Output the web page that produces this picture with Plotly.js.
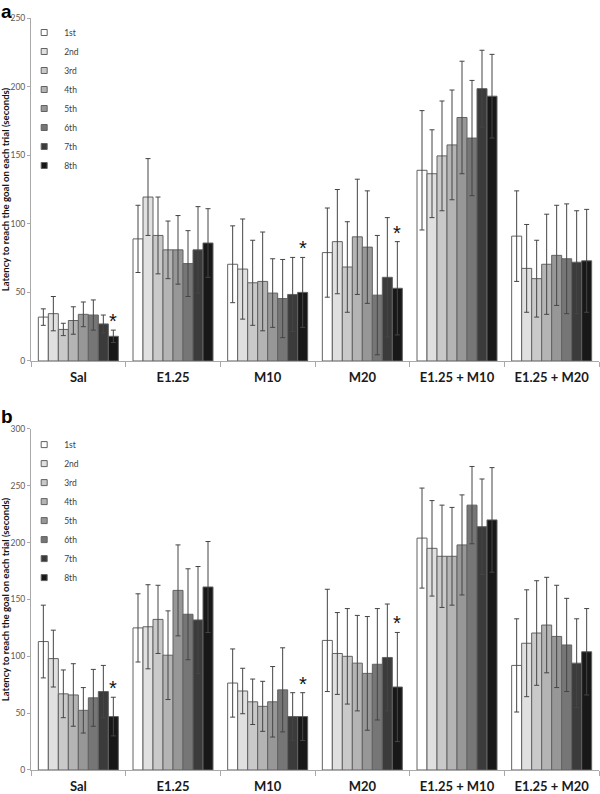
<!DOCTYPE html>
<html>
<head>
<meta charset="utf-8">
<script src="https://cdn.plot.ly/plotly-3.0.1.min.js"></script>
<style>html,body{margin:0;padding:0;background:#fff;}#chart{width:600px;height:794px;}</style>
</head>
<body>
<div id="chart"></div>
<script>
// ---- categories & series ----
const groups = ['Sal', 'E1.25', 'M10', 'M20', 'E1.25 + M10', 'E1.25 + M20'];
const trials = ['1st', '2nd', '3rd', '4th', '5th', '6th', '7th', '8th'];
const trialColors = ['#ffffff', '#e0e0e0', '#c9c9c9', '#b4b4b4', '#979797', '#767676', '#3b3b3b', '#181818'];

// Panel a: mean latency (s) per trial, one array per group
const aSal      = [32, 34.5, 23, 29.5, 34, 33.5, 27, 18];
const aE125     = [89, 119.5, 91.5, 81, 81, 71, 81, 86];
const aM10      = [70.5, 67, 57, 58, 49.5, 45.5, 48.5, 50];
const aM20      = [79, 87, 68.5, 90.5, 83, 48, 61, 53];
const aE125M10  = [139, 136.5, 149.5, 157.5, 177.5, 162.5, 198.5, 193];
const aE125M20  = [91, 67.5, 60, 70.5, 77, 74.5, 72, 73];
// Panel a: error bars
const aSalErr     = [6, 12.5, 4.5, 10, 9, 11, 6.5, 4.5];
const aE125Err    = [24.5, 28, 28, 21, 25, 24, 31.5, 25];
const aM10Err     = [28, 36.5, 31, 36, 25, 28.5, 27, 25.5];
const aM20Err     = [32.5, 38, 33, 42, 41, 43.5, 43.5, 34];
const aE125M10Err = [43.5, 32, 40, 40, 41, 42, 28, 30.5];
const aE125M20Err = [33, 32, 28, 36.5, 36.5, 40, 37.5, 37.5];

// Panel b: mean latency (s) per trial
const bSal      = [113, 98, 67, 66, 52.5, 63.5, 69, 47];
const bE125     = [125, 126, 132.5, 101, 158, 137, 132, 161];
const bM10      = [76.5, 69.5, 60, 56, 60, 70.5, 47, 47];
const bM20      = [114, 102.5, 100, 94, 85, 93, 99, 73];
const bE125M10  = [204, 195, 188, 188, 198, 233, 214, 220];
const bE125M20  = [92, 111.5, 120.5, 127.5, 117.5, 110, 94, 104];
// Panel b: error bars
const bSalErr     = [32, 25, 21, 27.5, 20, 25, 23, 17];
const bE125Err    = [30, 37, 30, 39, 40, 40, 47, 40];
const bM10Err     = [30, 20, 20, 22, 31, 37, 21, 21];
const bM20Err     = [45, 36, 42, 42, 50, 49, 47, 48];
const bE125M10Err = [44, 42, 45, 43, 44, 34, 42, 46];
const bE125M20Err = [41, 47, 46, 42, 45, 41, 39, 38];

// groups marked with * on the 8th trial
const starGroups = ['Sal', 'M10', 'M20'];
const yTitle = 'Latency to reach the goal on each trial (seconds)';

// ---- build ----
const meansA = [aSal, aE125, aM10, aM20, aE125M10, aE125M20];
const errsA  = [aSalErr, aE125Err, aM10Err, aM20Err, aE125M10Err, aE125M20Err];
const meansB = [bSal, bE125, bM10, bM20, bE125M10, bE125M20];
const errsB  = [bSalErr, bE125Err, bM10Err, bM20Err, bE125M10Err, bE125M20Err];

const BARGAP = 0.155;
const FONT = 'Lato, "Open Sans", sans-serif';
const traces = [];
const annotations = [];

function addPanel(means, errs, xa, ya, legendId) {
  trials.forEach((t, i) => {
    traces.push({
      type: 'bar', name: t, x: groups,
      y: means.map(m => m[i]),
      error_y: { type: 'data', array: errs.map(e => e[i]), visible: true,
                 color: '#454545', thickness: 1, width: 2.5 },
      marker: { color: trialColors[i], line: { color: '#626262', width: 1 } },
      xaxis: xa, yaxis: ya, showlegend: false
    });
  });
  // legend entries
  trials.forEach((t, i) => {
    traces.push({
      type: 'scatter', mode: 'markers', name: t, x: [null], y: [null],
      marker: { symbol: 'square', size: 6, color: trialColors[i], line: { color: '#626262', width: 1 } },
      xaxis: xa, yaxis: ya, legend: legendId, showlegend: true, hoverinfo: 'skip'
    });
  });
  const last = trials.length - 1;
  const barFrac = (1 - BARGAP) / trials.length;
  starGroups.forEach(g => {
    const gi = groups.indexOf(g);
    annotations.push({
      xref: xa, yref: ya,
      x: gi + (last - (trials.length - 1) / 2) * barFrac,
      y: means[gi][last] + errs[gi][last],
      text: '*', showarrow: false, yanchor: 'bottom', yshift: -4,
      font: { family: '"Liberation Sans", Arial, sans-serif', size: 20, color: '#111' }
    });
  });
}
addPanel(meansA, errsA, 'x', 'y', 'legend');
addPanel(meansB, errsB, 'x2', 'y2', 'legend2');

annotations.push({ xref: 'paper', yref: 'paper', x: -0.0546, y: 1.0235, xanchor: 'left', yanchor: 'top',
  text: '<b>a</b>', showarrow: false, borderpad: 0, font: { family: '"Liberation Sans", Arial, sans-serif', size: 19, color: '#000' } });
annotations.push({ xref: 'paper', yref: 'paper', x: -0.0546, y: 0.4854, xanchor: 'left', yanchor: 'top',
  text: '<b>b</b>', showarrow: false, borderpad: 0, font: { family: '"Liberation Sans", Arial, sans-serif', size: 19, color: '#000' } });

function xAxis(anchor) {
  return {
    anchor: anchor, type: 'category', showline: true, linecolor: '#a9a9a9', linewidth: 1,
    ticks: 'outside', tickson: 'boundaries', ticklen: 5, tickcolor: '#a9a9a9',
    showgrid: false, zeroline: false, ticklabelstandoff: 4,
    tickfont: { family: FONT, size: 13, color: '#1a1a1a', weight: 'bold' }
  };
}
function yAxis(anchor, domain, maxV) {
  return {
    anchor: anchor, domain: domain, range: [0, maxV], dtick: 50, tick0: 0,
    showline: true, linecolor: '#a9a9a9', linewidth: 1, ticks: 'outside', ticklen: 3, tickcolor: '#a9a9a9',
    showgrid: false, zeroline: false,
    tickfont: { family: FONT, size: 8.5, color: '#5a5a5a' },
    title: { text: yTitle, standoff: 2, font: { family: FONT, size: 9.6, color: '#111', weight: 'bold' } }
  };
}
function legendCfg(y) {
  return { x: -0.012, xanchor: 'left', y: y, yanchor: 'top', bgcolor: 'rgba(0,0,0,0)',
           font: { family: FONT, size: 8.5, color: '#404040' }, tracegroupgap: 0, itemclick: false };
}

const layout = {
  width: 600, height: 794,
  margin: { l: 31, r: 1, t: 18, b: 24 },
  paper_bgcolor: '#fff', plot_bgcolor: '#fff',
  barmode: 'group', bargap: BARGAP, bargroupgap: 0,
  xaxis: xAxis('y'), yaxis: yAxis('x', [0.5439, 1], 250),
  xaxis2: xAxis('y2'), yaxis2: yAxis('x2', [0, 0.4535], 300),
  legend: legendCfg(1.0),
  legend2: legendCfg(0.452),
  annotations: annotations,
  showlegend: true
};

Plotly.newPlot('chart', traces, layout, { staticPlot: true, displayModeBar: false });
</script>
</body>
</html>
